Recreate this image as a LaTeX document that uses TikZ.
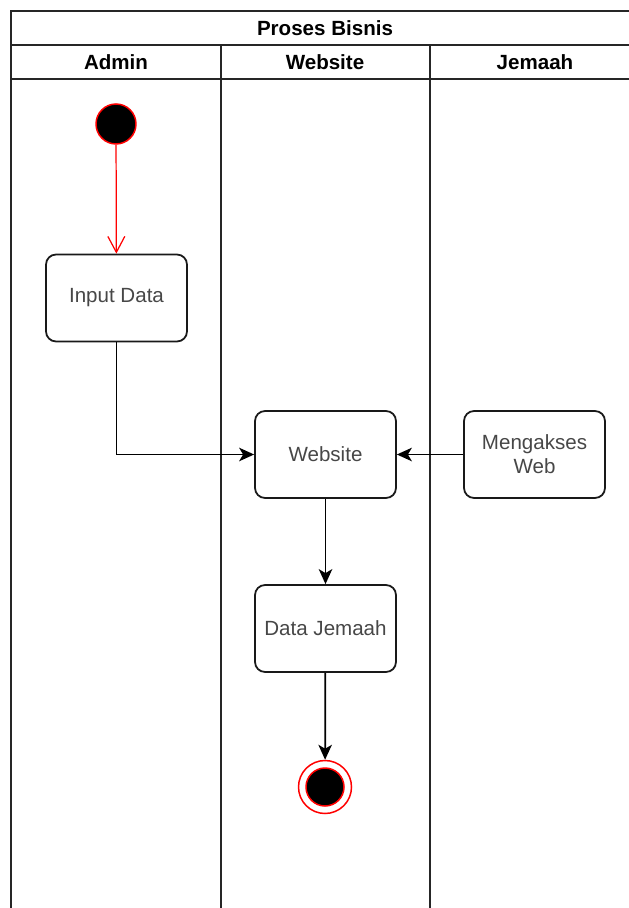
\documentclass[tikz,border=0pt]{standalone}
\usepackage{fontspec}
\setmainfont{Liberation Sans}
\usetikzlibrary{arrows.meta, positioning}

\begin{document}
\begin{tikzpicture}[x=0.02cm, y=-0.02cm, >={Stealth[length=0.3cm, width=0.27cm, inset=0.08cm]}, line width=1pt,
    every node/.style={font=\fontsize{11.7}{13.6}\selectfont},
    hdr/.style={font=\fontsize{11.7}{13.6}\selectfont\bfseries},
    lane/.style={line width=0.9pt, black!85},
    act/.style={draw=black!90, fill=white, rounded corners=0.2cm, minimum width=2.82cm, minimum height=1.74cm, align=center, text=black!72}]
    \useasboundingbox (0,0) rectangle (628,908);

    % pool header and swimlanes
    \draw[lane] (640,11) -- (11,11) -- (11,908);
    \draw[lane] (11,45) -- (640,45);
    \draw[lane] (11,79) -- (640,79);
    \draw[lane] (221,45) -- (221,908);
    \draw[lane] (430,45) -- (430,908);
    \node[hdr] (pool) at (325,28) {Proses Bisnis};
    \node[hdr] (admin) at (116,62) {Admin};
    \node[hdr] (site) at (325,62) {Website};
    \node[hdr] (jemaah) at (535,62) {Jemaah};

    % activities
    \node[circle, fill=black, draw=red, line width=0.85pt, minimum size=0.8cm, inner sep=0pt] (start) at (116,124) {};
    \node[act] (input) at (116.5,298) {Input Data};
    \node[act] (web) at (325.5,454.5) {Website};
    \node[act] (akses) at (534.5,454.5) {Mengakses\\Web};
    \node[act] (data) at (325.5,628.5) {Data Jemaah};
    \node[circle, fill=white, draw=red, line width=0.85pt, minimum size=1.06cm, inner sep=0pt] (end) at (325,787) {};
    \node[circle, fill=black, draw=red, line width=0.85pt, minimum size=0.76cm, inner sep=0pt] at (end) {};

    % flows
    \draw[-{Straight Barb[length=0.32cm, width=0.34cm]}, red, line width=0.7pt] (start) -- (input);
    \draw[->] (input) |- (web);
    \draw[->] (akses) -- (web);
    \draw[->] (web) -- (data);
    \draw[->] (data) -- (end);
\end{tikzpicture}
\end{document}
